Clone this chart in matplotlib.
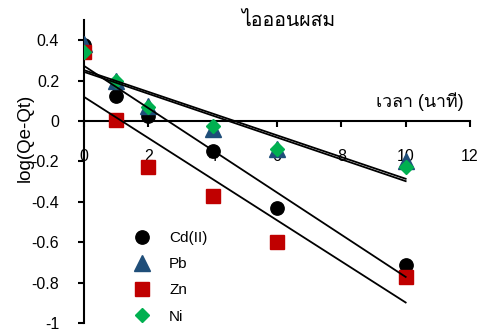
import matplotlib
matplotlib.use('Agg')
import matplotlib.pyplot as plt
from matplotlib.ticker import FuncFormatter
import numpy as np

plt.rcParams['font.family'] = ['Liberation Sans', 'Loma', 'DejaVu Sans']
plt.rcParams['axes.unicode_minus'] = False

# time (minutes) and log(Qe-Qt) for each metal ion in the mixed solution
time_min = [0, 1, 2, 4, 6, 10]
cd_vals = [0.376, 0.124, 0.025, -0.148, -0.430, -0.713]
pb_vals = [0.380, 0.200, 0.074, -0.040, -0.140, -0.200]
zn_vals = [0.340, 0.005, -0.230, -0.370, -0.600, -0.770]
ni_vals = [0.340, 0.200, 0.070, -0.025, -0.140, -0.230]

series = [
    ('Cd(II)', cd_vals, dict(marker='o', color='black', ms=9.6)),
    ('Pb', pb_vals, dict(marker='^', color='#1F4E79', ms=11.5)),
    ('Zn', zn_vals, dict(marker='s', color='#C00000', ms=9.6)),
    ('Ni', ni_vals, dict(marker='D', color='#00B050', ms=6.8)),
]

fig = plt.figure(figsize=(4.79, 3.30), dpi=100)
ax = fig.add_axes([84 / 479, 1 - 323 / 330, 386 / 479, 303 / 330])

x = np.array(time_min, dtype=float)
for name, vals, st in series:
    ax.plot(x, vals, linestyle='none', marker=st['marker'], ms=st['ms'],
            mfc=st['color'], mec=st['color'], label=name, zorder=3)

# linear trendlines over the measured range
xf = np.array([x.min(), x.max()])
for name, vals, st in series:
    k, b = np.polyfit(x, vals, 1)
    ax.plot(xf, k * xf + b, color='black', lw=1.3, zorder=4)

ax.set_xlim(0, 12)
ax.set_ylim(-1, 0.5)
ax.set_xticks(np.arange(0, 13, 2))
ax.set_yticks(np.arange(-1, 0.41, 0.2))
ax.yaxis.set_major_formatter(FuncFormatter(lambda v, p: f'{v:g}' if abs(v) > 1e-9 else '0'))

ax.spines['left'].set_position(('data', 0))
ax.spines['bottom'].set_position(('data', 0))
ax.spines['right'].set_visible(False)
ax.spines['top'].set_visible(False)
for s in ('left', 'bottom'):
    ax.spines[s].set_linewidth(1.5)
ax.tick_params(axis='x', direction='out', length=4.5, width=1.5, pad=15.5,
               labelsize=11.5)
ax.tick_params(axis='y', direction='out', length=4.5, width=1.5, pad=13.5,
               labelsize=11.5)

fig.text(288 / 479, 1 - 21 / 330, 'ไอออนผสม', ha='center', va='center',
         fontsize=14)
fig.text(464 / 479, 1 - 102 / 330, 'เวลา (นาที)', ha='right', va='center',
         fontsize=12.8)
fig.text(25 / 479, 1 - 138 / 330, 'log(Qe-Qt)', rotation=90, ha='center',
         va='center', fontsize=13.5)

ax.legend(loc='upper left', bbox_to_anchor=(134 / 479, 1 - 231 / 330),
          bbox_transform=fig.transFigure, frameon=False, fontsize=11,
          handlelength=1.0, handletextpad=1.3, labelspacing=0.8,
          borderpad=0, borderaxespad=0, numpoints=1)

fig.savefig('out.png', dpi=100)
